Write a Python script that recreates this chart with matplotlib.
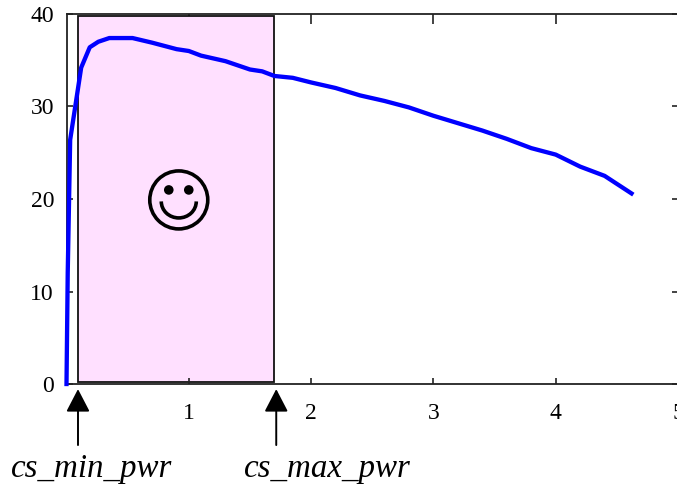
import matplotlib
matplotlib.use("Agg")
import matplotlib.pyplot as plt
from matplotlib.patches import Rectangle, Circle, Arc
from matplotlib.transforms import Affine2D

W, H = 677, 486
curve_x = [0, 0.01, 0.03, 0.12, 0.19, 0.26, 0.35, 0.54, 0.70, 0.90, 1.00, 1.10, 1.30, 1.50, 1.60,
           1.70, 1.85, 2.00, 2.20, 2.40, 2.60, 2.80, 3.00, 3.20, 3.40, 3.60, 3.80, 4.00, 4.20, 4.40, 4.62]
curve_y = [0, 12.0, 26.4, 34.2, 36.4, 37.0, 37.4, 37.4, 36.9, 36.2, 36.0, 35.5, 34.9, 34.0, 33.8,
           33.3, 33.1, 32.6, 32.0, 31.2, 30.6, 29.9, 29.0, 28.2, 27.4, 26.5, 25.5, 24.8, 23.5, 22.5, 20.6]
x_ticks = [1, 2, 3, 4, 5]
y_ticks = [0, 10, 20, 30, 40]
region = [0.094, 1.698]
region_y = [0.25, 39.8]
arrow_x = [0.094, 1.715]
labels = ["cs_min_pwr", "cs_max_pwr"]
label_x = [0.205, 2.13]

plt.rcParams["font.family"] = ["Liberation Serif", "DejaVu Sans"]
fig = plt.figure(figsize=(W / 100, H / 100), dpi=100)
ax = fig.add_axes([66.5 / W, (H - 384) / H, 611.5 / W, 370 / H])
ax.set_xlim(0, 5)
ax.set_ylim(0, 40)

ax.add_patch(Rectangle((region[0], region_y[0]), region[1] - region[0], region_y[1] - region_y[0],
                       facecolor="#ffe0ff", edgecolor="#111111", linewidth=1.3, zorder=1))
ax.plot(curve_x, curve_y, color="#0000ff", linewidth=3.1, solid_joinstyle="round", zorder=3, clip_on=False)

for s in ("left", "bottom", "top"):
    ax.spines[s].set_linewidth(1.3)
    ax.spines[s].set_color("#222222")
ax.spines["right"].set_visible(False)
ax.set_xticks(x_ticks)
ax.set_yticks(y_ticks)
ax.tick_params(axis="x", direction="in", length=4.5, width=1.2, top=False, labelsize=17,
               color="#222222", pad=14)
ax.tick_params(axis="y", direction="in", length=4, width=1.2, right=True, labelsize=17,
               color="#222222", pad=9)
top = ax.secondary_xaxis("top")
top.set_xticks(x_ticks)
top.set_xticklabels([])
top.tick_params(direction="in", length=7, width=1.2, color="#222222")
top.spines["top"].set_visible(False)

# smiley, sized in pixels around a point in the pink region
cx, cy = ax.transData.transform((0.918, 19.9))
face = Affine2D().translate(cx, cy)
smile = dict(transform=face, clip_on=False, zorder=4)
fig.add_artist(Circle((0, 0), 29, facecolor="none", edgecolor="black", linewidth=2.6, **smile))
fig.add_artist(Circle((-10, 10), 4.8, facecolor="black", edgecolor="none", **smile))
fig.add_artist(Circle((10, 10), 4.8, facecolor="black", edgecolor="none", **smile))
fig.add_artist(Arc((0, -1.5), 35, 33, theta1=180, theta2=360, edgecolor="black", linewidth=2.6, **smile))

for a_x, lab, lx in zip(arrow_x, labels, label_x):
    ax.annotate("", xy=(a_x, -0.55), xytext=(a_x, -6.6), annotation_clip=False,
                arrowprops=dict(arrowstyle="-|>,head_length=1.0,head_width=0.52", color="black",
                                lw=1.4, mutation_scale=14, shrinkA=0, shrinkB=0))
    ax.text(lx, -10.05, lab, fontsize=23.8, style="italic", ha="center", va="baseline", clip_on=False)

fig.savefig("out.png", dpi=100)
